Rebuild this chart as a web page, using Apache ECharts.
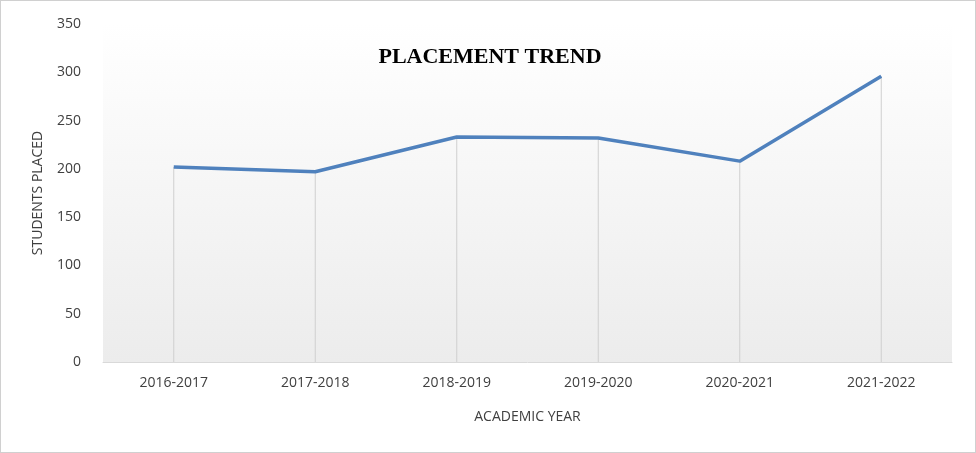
<!DOCTYPE html>
<html><head><meta charset="utf-8">
<script src="https://cdn.jsdelivr.net/npm/echarts@6/dist/echarts.min.js"></script>
<style>html,body{margin:0;padding:0;background:#fff}#c{width:974px;height:451px;border:1px solid #d0d0d0}</style>
</head><body><div id="c"></div>
<script>
const categories=['2016-2017','2017-2018','2018-2019','2019-2020','2020-2021','2021-2022'];
const placed=[202,197,233,232,208,296];
const yTicks={min:0,max:350,interval:50};
const chart=echarts.init(document.getElementById('c'));
chart.setOption({
 animation:false,
 title:{text:'PLACEMENT TREND',left:484,top:40,textAlign:'center',textStyle:{fontFamily:'Liberation Serif',fontWeight:'bold',fontSize:22,color:'#000'}},
 grid:{left:102,right:23,top:23,bottom:90,show:true,borderWidth:0,
  backgroundColor:{type:'linear',x:0,y:0,x2:0,y2:1,colorStops:[{offset:0,color:'#ffffff'},{offset:1,color:'#ececec'}]}},
 xAxis:{type:'category',data:categories,boundaryGap:true,name:'ACADEMIC YEAR',nameLocation:'middle',nameGap:48,
  nameTextStyle:{fontFamily:'Open Sans',fontSize:14,color:'#404040'},
  axisLine:{lineStyle:{color:'#d9d9d9'}},axisTick:{show:false},
  axisLabel:{fontFamily:'Open Sans',fontSize:14,color:'#404040',margin:14}},
 yAxis:{type:'value',...yTicks,name:'STUDENTS PLACED',nameLocation:'middle',nameGap:58,
  nameTextStyle:{fontFamily:'Open Sans',fontSize:14,color:'#404040'},
  axisLine:{show:false},axisTick:{show:false},splitLine:{show:false},
  axisLabel:{fontFamily:'Open Sans',fontSize:14,color:'#404040',margin:22}},
 series:[
  {type:'bar',data:placed,barWidth:1,itemStyle:{color:'#cfcfcf'},silent:true,z:1},
  {type:'line',data:placed,symbol:'none',lineStyle:{color:'#4f81bd',width:3.5},z:3}
 ]
});
</script></body></html>
